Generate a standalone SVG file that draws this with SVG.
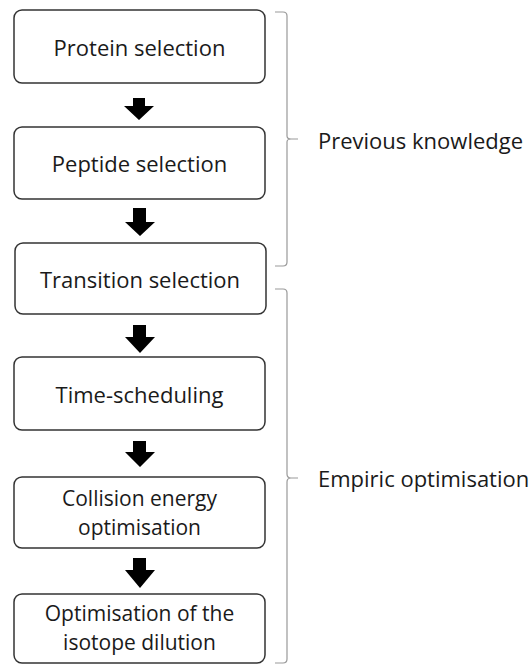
<svg xmlns="http://www.w3.org/2000/svg" width="530" height="666" viewBox="0 0 530 666">
<style>
.box{fill:#fff;stroke:#333;stroke-width:1.5}
.lbl{font-family:"Open Sans","Noto Sans","Liberation Sans",sans-serif;font-size:22px;fill:#1a1a1a;text-anchor:middle;dominant-baseline:central}
.two{font-size:21px}
.side{font-family:"Open Sans","Noto Sans","Liberation Sans",sans-serif;font-size:22px;fill:#1a1a1a;dominant-baseline:central}
.arrow{fill:#000}
.brace{fill:none;stroke:#999;stroke-width:1.2}
</style>
<rect width="530" height="666" fill="#fff"/>
<g id="n1"><rect class="box" x="14" y="10" width="251" height="73" rx="8"/><text class="lbl" x="139.5" y="47">Protein selection</text></g>
<g id="n2"><rect class="box" x="14" y="127" width="251" height="72" rx="8"/><text class="lbl" x="139.5" y="163">Peptide selection</text></g>
<g id="n3"><rect class="box" x="15" y="243" width="251" height="71" rx="8"/><text class="lbl" x="140" y="279">Transition selection</text></g>
<g id="n4"><rect class="box" x="14" y="357" width="251" height="73" rx="8"/><text class="lbl" x="139.5" y="394">Time-scheduling</text></g>
<g id="n5"><rect class="box" x="14" y="477" width="251" height="71" rx="8"/><text class="lbl two" x="139.5" y="498">Collision energy</text><text class="lbl two" x="139.5" y="527">optimisation</text></g>
<g id="n6"><rect class="box" x="14" y="594" width="251" height="69" rx="8"/><text class="lbl two" x="139.5" y="613">Optimisation of the</text><text class="lbl two" x="139.5" y="642">isotope dilution</text></g>
<g id="connectors">
<path class="arrow" d="M133,98 H145 V106 H154 L139,120 L124,106 H133 Z"/>
<path class="arrow" d="M133,208 H146 V222 H155 L140,236 L125,222 H133 Z"/>
<path class="arrow" d="M133,325 H146 V337 H155 L140,353 L125,337 H133 Z"/>
<path class="arrow" d="M133,441 H146 V452 H155 L140,467 L125,452 H133 Z"/>
<path class="arrow" d="M133,558 H146 V570 H155 L140,588 L125,570 H133 Z"/>
</g>
<g id="brace1"><path class="brace" d="M275,12 H283 Q287,12 287,16 V136 Q287,139 291,139 H298 M291,139 Q287,139 287,142 V262 Q287,266 283,266 H275"/><text class="side" x="318" y="140">Previous knowledge</text></g>
<g id="brace2"><path class="brace" d="M275,289 H283 Q287,289 287,293 V474 Q287,478 291,478 H298 M291,478 Q287,478 287,482 V659 Q287,663 283,663 H275"/><text class="side" x="318" y="478">Empiric optimisation</text></g>
</svg>
